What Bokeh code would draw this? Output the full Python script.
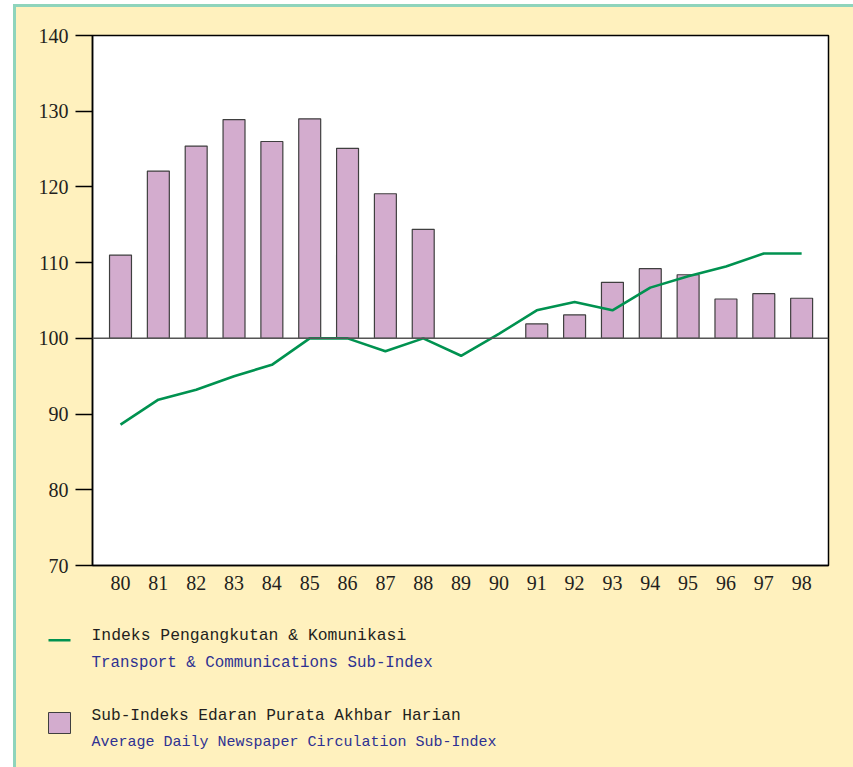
from bokeh.plotting import figure
from bokeh.models import Range1d, FixedTicker, Span, Spacer
from bokeh.layouts import row, column
from bokeh.core.properties import value
from bokeh.embed import file_html
from bokeh.resources import INLINE

# ---- data ----
years = list(range(80, 99))
year_labels = [str(y) for y in years]
transport = [88.6, 91.9, 93.2, 95.0, 96.5, 100.0, 100.0, 98.3, 100.0, 97.7,
             100.6, 103.7, 104.8, 103.7, 106.7, 108.2, 109.5, 111.2, 111.2]
bar_years = [80, 81, 82, 83, 84, 85, 86, 87, 88, 91, 92, 93, 94, 95, 96, 97, 98]
newspaper = [111.0, 122.1, 125.4, 128.9, 126.0, 129.0, 125.1, 119.1, 114.4,
             101.9, 103.1, 107.4, 109.2, 108.4, 105.2, 105.9, 105.3]
y_ticks = [70, 80, 90, 100, 110, 120, 130, 140]
base_value = 100
legend_texts = ["Indeks Pengangkutan & Komunikasi",
                "Transport & Communications Sub-Index",
                "Sub-Indeks Edaran Purata Akhbar Harian",
                "Average Daily Newspaper Circulation Sub-Index"]

# ---- styles ----
YELLOW = "#FFF1BE"
TEAL = "#8ED4BC"
PURPLE = "#D3ACCE"
GREEN = "#009250"
BLUE = "#2E3192"
DARK = "#231F20"
EDGE = "#3F3F3F"

# ---- main chart ----
p = figure(width=837, height=598,
           x_range=Range1d(79.26, 98.71), y_range=Range1d(70, 140),
           output_backend="svg", toolbar_location=None,
           min_border_left=76, min_border_right=25,
           min_border_top=28, min_border_bottom=40)

p.background_fill_color = "white"
p.border_fill_color = YELLOW
p.outline_line_color = "black"
p.outline_line_width = 1.5
p.grid.visible = False

ya = p.yaxis[0]
ya.ticker = FixedTicker(ticks=y_ticks)
ya.major_tick_out = 17
ya.major_tick_in = 0
ya.minor_tick_line_color = None
ya.major_tick_line_color = "black"
ya.major_tick_line_width = 1.5
ya.axis_line_color = "black"
ya.axis_line_width = 1.5
ya.major_label_standoff = 7
ya.major_label_text_font = "Liberation Serif"
ya.major_label_text_font_size = "20px"
ya.major_label_text_color = DARK

xa = p.xaxis[0]
xa.ticker = FixedTicker(ticks=years)
xa.major_label_overrides = {y: s for y, s in zip(years, year_labels)}
xa.major_tick_out = 0
xa.major_tick_in = 0
xa.minor_tick_line_color = None
xa.axis_line_color = "black"
xa.axis_line_width = 1.5
xa.major_label_standoff = 10
xa.major_label_text_font = "Liberation Serif"
xa.major_label_text_font_size = "20px"
xa.major_label_text_color = DARK

p.vbar(x=bar_years, top=newspaper, bottom=base_value, width=0.58,
       fill_color=PURPLE, line_color=EDGE, line_width=1.2)

p.add_layout(Span(location=base_value, dimension="width",
                  line_color="#555555", line_width=1.5))

p.line(years, transport, line_color=GREEN, line_width=2.6)

# ---- legend panel (coordinates are page pixels) ----
lg = figure(width=837, height=162,
            x_range=Range1d(16, 853), y_range=Range1d(767, 605),
            x_axis_type=None, y_axis_type=None,
            output_backend="svg", toolbar_location=None,
            min_border=0, min_border_left=0, min_border_right=0,
            min_border_top=0, min_border_bottom=0)
lg.background_fill_color = YELLOW
lg.border_fill_color = YELLOW
lg.outline_line_color = None
lg.grid.visible = False

lg.quad(left=[48], right=[70], top=[638.5], bottom=[641], fill_color=GREEN, line_color=None)
lg.quad(left=[48], right=[70], top=[712], bottom=[733], fill_color=PURPLE,
        line_color=EDGE, line_width=1)
lg.text(x=[91, 91, 91, 91], y=[635, 662, 715, 742], text=legend_texts,
        text_color=[DARK, BLUE, DARK, BLUE],
        text_font=value("Liberation Mono"),
        text_font_size=["16.4px", "15.8px", "16.2px", "15px"],
        text_baseline="alphabetic", text_align="left")

# ---- page frame: white margin, teal rules ----
top_gap = Spacer(width=853, height=4)
white_strip = Spacer(width=13, height=763)
teal_left = Spacer(width=3, height=763, styles={"background-color": TEAL})
teal_top = Spacer(width=837, height=3, styles={"background-color": TEAL})

inner = column(teal_top, row(p), row(lg), spacing=0,
               styles={"background-color": YELLOW})
layout = column(top_gap, row(white_strip, teal_left, inner, spacing=0), spacing=0)

open("out.html", "w").write(file_html(layout, INLINE))
